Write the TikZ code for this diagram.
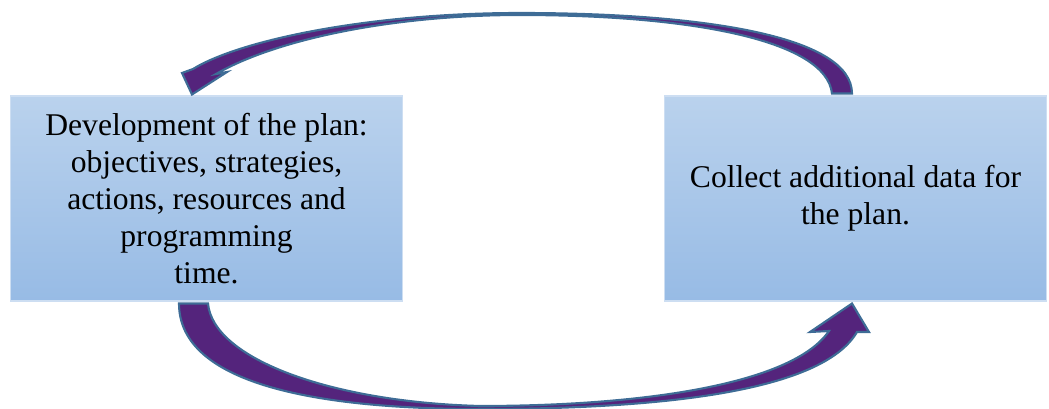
\documentclass[tikz,border=0pt]{standalone}
\usepackage{fontspec}
\setmainfont{Liberation Serif}
\usepackage{tikz}
\usetikzlibrary{positioning}
\usepackage{xcolor}
\definecolor{boxtop}{RGB}{186,210,237}
\definecolor{boxbot}{RGB}{151,187,229}
\definecolor{boxline}{RGB}{205,222,242}
\definecolor{arrowin}{RGB}{84,36,124}
\definecolor{arrowout}{RGB}{62,108,150}

\begin{document}
\begin{tikzpicture}[x=0.02cm, y=-0.02cm,
  main/.style = {draw=boxline, line width=0.6pt, top color=boxtop, bottom color=boxbot,
    minimum height=4.1cm, align=center, font=\fontsize{18}{21}\selectfont},
  turn/.style = {draw=arrowout, line width=1.2pt, fill=arrowin, line join=miter}]
\useasboundingbox (0,0) rectangle (1049,409);
\node[main, minimum width=7.86cm] (plan) at (206.5,198.5) {Development of the plan:\\ objectives, strategies,\\ actions, resources and\\ programming\\ time.};
\node[main, minimum width=7.66cm] (data) at (855.5,198.5) {Collect additional data for\\ the plan.};
% upper arrow, from data back to plan
\draw[turn] ([shift={(-3.5,-2)}]data.north) .. controls +(0,-58) and (700,13) .. (520,13)
  .. controls (370,13) and (240,40) .. (193,69) -- (182,73) -- ([shift={(-14.5,-1)}]plan.north)
  -- (227,72) -- (216,74) .. controls (275,40) and (390,15) .. (520,15)
  .. controls (690,15) and (826,40) .. ([shift={(-23.5,-2)}]data.north) -- cycle;
% lower arrow, from plan to data
\draw[turn] ([shift={(-27.5,2)}]plan.south) -- ([shift={(1.5,2)}]plan.south) .. controls +(5,55) and (330,402) .. (480,406)
  .. controls (640,406) and (792,385) .. (829,331) -- (810,332) -- ([shift={(-3.5,2)}]data.south)
  -- (869,332) -- (857,332) .. controls (822,392) and (660,409) .. (480,409)
  .. controls (320,409) and (179,385) .. ([shift={(-27.5,2)}]plan.south) -- cycle;
\end{tikzpicture}
\end{document}
